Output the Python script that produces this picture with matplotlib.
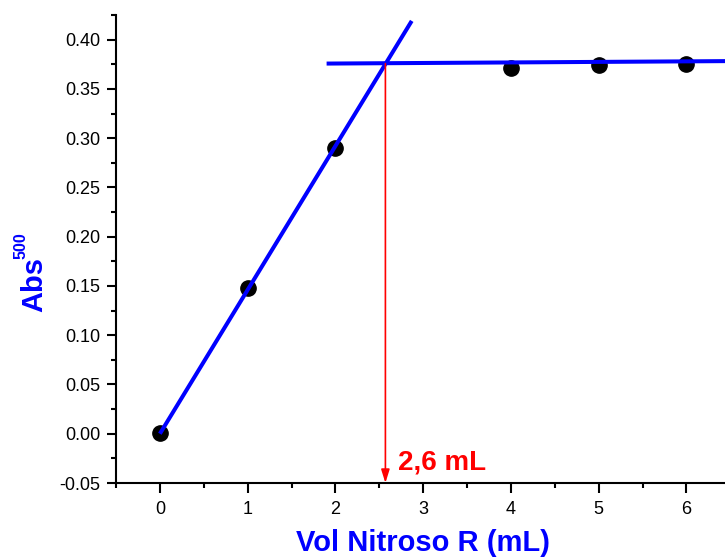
import matplotlib
matplotlib.use("Agg")
import matplotlib.pyplot as plt
from matplotlib.ticker import MultipleLocator, FormatStrFormatter

plt.rcParams['font.family'] = ['Liberation Sans', 'DejaVu Sans']
plt.rcParams['axes.unicode_minus'] = False

# data
vol_ml = [0, 1, 2, 4, 5, 6]
absorbance = [0.001, 0.1475, 0.2905, 0.371, 0.3746, 0.3755]

# fitted lines (endpoints)
rise_x = [0.0, 2.87]
rise_y = [0.0, 0.419]
plateau_x = [1.90, 7.0]
plateau_y = [0.3757, 0.3785]

# equivalence point
eq_x = 2.57
eq_y = 0.3757
eq_label = "2,6 mL"

xticks = [0, 1, 2, 3, 4, 5, 6]
yticks = [-0.05, 0.00, 0.05, 0.10, 0.15, 0.20, 0.25, 0.30, 0.35, 0.40]

W, H = 725, 560
fig = plt.figure(figsize=(W / 100, H / 100), dpi=100)
ax = fig.add_axes([116 / W, 1 - 483 / H, 1 - 116 / W, (483 - 15) / H])

ax.plot(vol_ml, absorbance, 'o', color='black', ms=11, zorder=2)
ax.plot(rise_x, rise_y, color='#0000ff', lw=2.9, zorder=3, solid_capstyle='butt')
ax.plot(plateau_x, plateau_y, color='#0000ff', lw=2.9, zorder=3, solid_capstyle='butt')

ax.annotate('', xy=(eq_x, -0.05), xytext=(eq_x, eq_y),
            arrowprops=dict(arrowstyle='-|>,head_length=0.8,head_width=0.25',
                            color='red', lw=1.2, shrinkA=0, shrinkB=0,
                            mutation_scale=10), zorder=4)
ax.text(eq_x + 0.145, -0.0368, eq_label, color='red', fontsize=20,
        fontweight='bold', ha='left', va='baseline')

ax.set_xlim(-0.5, 6.44)
ax.set_ylim(-0.05, 0.425)
ax.set_xticks(xticks)
ax.set_yticks(yticks)
ax.xaxis.set_minor_locator(MultipleLocator(0.5))
ax.yaxis.set_minor_locator(MultipleLocator(0.025))
ax.yaxis.set_major_formatter(FormatStrFormatter('%.2f'))

for s in ['top', 'right']:
    ax.spines[s].set_visible(False)
for s in ['left', 'bottom']:
    ax.spines[s].set_linewidth(1.5)

ax.tick_params(axis='x', which='major', direction='out', length=7.2, width=1.5,
               labelsize=13, pad=6)
ax.tick_params(axis='x', which='minor', direction='out', length=3.6, width=1.5)
ax.tick_params(axis='y', which='major', direction='out', length=6.5, width=1.5,
               labelsize=13, pad=5)
ax.tick_params(axis='y', which='minor', direction='out', length=3.6, width=1.5)

# axis titles
fig.text(423 / W, 1 - 551 / H, 'Vol Nitroso R (mL)', color='#0000ff',
         fontsize=21, fontweight='bold', ha='center', va='baseline')
fig.text(42 / W, 1 - 285 / H, 'Abs', color='#0000ff', fontsize=21,
         fontweight='bold', rotation=90, rotation_mode='anchor',
         ha='center', va='baseline')
fig.text(25 / W, 1 - 246 / H, '500', color='#0000ff', fontsize=11.5,
         fontweight='bold', rotation=90, rotation_mode='anchor',
         ha='center', va='baseline')

fig.savefig('out.png', dpi=100)
